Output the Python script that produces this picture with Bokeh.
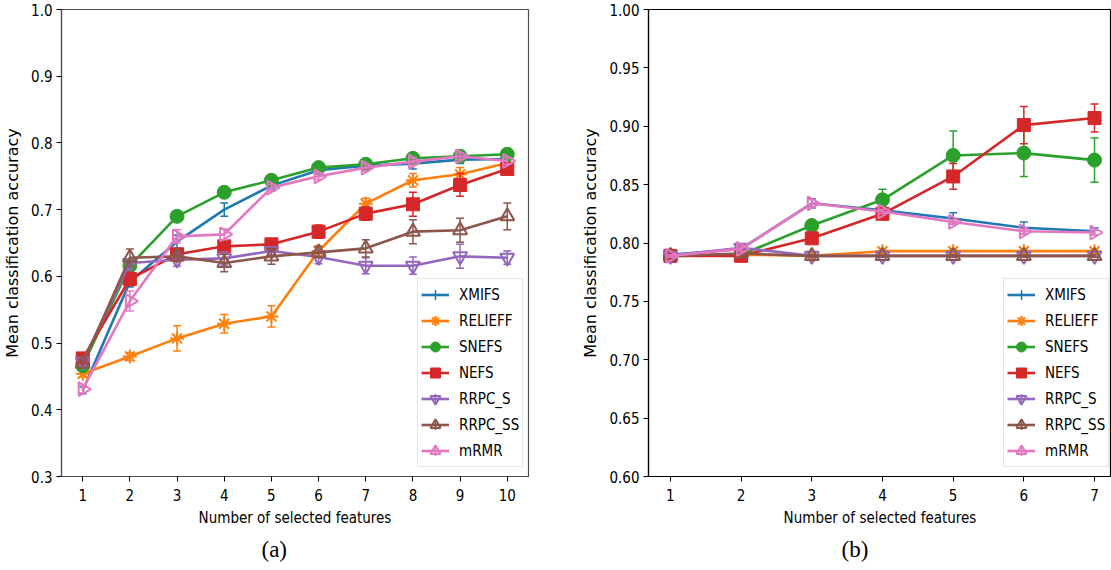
import numpy as np
from bokeh.plotting import figure
from bokeh.models import Range1d, FixedTicker, Legend, LegendItem, Title
from bokeh.layouts import row
from bokeh.embed import file_html
from bokeh.resources import INLINE

# ---------------- data ----------------
methods = ["XMIFS", "RELIEFF", "SNEFS", "NEFS", "RRPC_S", "RRPC_SS", "mRMR"]
colors = ["#1f77b4", "#ff7f0e", "#2ca02c", "#d62728", "#9467bd", "#8c564b", "#e377c2"]

# panel (a)
a_x = [1, 2, 3, 4, 5, 6, 7, 8, 9, 10]
a_xmifs = [0.429, 0.592, 0.652, 0.700, 0.736, 0.759, 0.766, 0.769, 0.775, 0.776]
a_relieff = [0.454, 0.480, 0.507, 0.529, 0.540, 0.638, 0.709, 0.744, 0.753, 0.770]
a_snefs = [0.466, 0.616, 0.690, 0.726, 0.744, 0.763, 0.768, 0.777, 0.780, 0.783]
a_nefs = [0.477, 0.596, 0.633, 0.645, 0.648, 0.667, 0.694, 0.708, 0.737, 0.761]
a_rrpc_s = [0.472, 0.620, 0.625, 0.627, 0.638, 0.629, 0.616, 0.616, 0.630, 0.628]
a_rrpc_ss = [0.469, 0.628, 0.630, 0.620, 0.630, 0.636, 0.642, 0.667, 0.669, 0.690]
a_mrmr = [0.431, 0.563, 0.660, 0.663, 0.733, 0.750, 0.763, 0.772, 0.780, 0.773]

a_xmifs_err = [0.005, 0.008, 0.010, 0.010, 0.005, 0.005, 0.005, 0.008, 0.006, 0.004]
a_relieff_err = [0.005, 0.006, 0.019, 0.014, 0.016, 0.008, 0.008, 0.010, 0.010, 0.006]
a_snefs_err = [0.005, 0.006, 0.006, 0.006, 0.005, 0.005, 0.004, 0.004, 0.004, 0.004]
a_nefs_err = [0.006, 0.010, 0.008, 0.008, 0.006, 0.010, 0.010, 0.018, 0.017, 0.008]
a_rrpc_s_err = [0.006, 0.006, 0.010, 0.010, 0.006, 0.010, 0.012, 0.013, 0.018, 0.010]
a_rrpc_ss_err = [0.006, 0.013, 0.008, 0.013, 0.012, 0.008, 0.013, 0.018, 0.018, 0.020]
a_mrmr_err = [0.006, 0.015, 0.010, 0.008, 0.005, 0.005, 0.005, 0.005, 0.005, 0.005]

a_yticks = [0.3, 0.4, 0.5, 0.6, 0.7, 0.8, 0.9, 1.0]
a_ytick_labels = ["0.3", "0.4", "0.5", "0.6", "0.7", "0.8", "0.9", "1.0"]

# panel (b)
b_x = [1, 2, 3, 4, 5, 6, 7]
b_xmifs = [0.790, 0.795, 0.834, 0.828, 0.821, 0.813, 0.810]
b_relieff = [0.789, 0.790, 0.789, 0.793, 0.793, 0.793, 0.793]
b_snefs = [0.789, 0.790, 0.815, 0.837, 0.875, 0.877, 0.871]
b_nefs = [0.789, 0.789, 0.804, 0.825, 0.857, 0.901, 0.907]
b_rrpc_s = [0.789, 0.796, 0.789, 0.789, 0.789, 0.789, 0.789]
b_rrpc_ss = [0.789, 0.791, 0.789, 0.789, 0.789, 0.789, 0.789]
b_mrmr = [0.789, 0.795, 0.834, 0.827, 0.818, 0.810, 0.809]

b_xmifs_err = [0.001, 0.002, 0.004, 0.003, 0.005, 0.005, 0.003]
b_relieff_err = [0.001, 0.001, 0.001, 0.002, 0.002, 0.002, 0.002]
b_snefs_err = [0.001, 0.001, 0.002, 0.009, 0.021, 0.020, 0.019]
b_nefs_err = [0.001, 0.001, 0.003, 0.003, 0.011, 0.016, 0.012]
b_rrpc_s_err = [0.001, 0.002, 0.001, 0.001, 0.001, 0.001, 0.001]
b_rrpc_ss_err = [0.001, 0.002, 0.001, 0.001, 0.001, 0.001, 0.001]
b_mrmr_err = [0.001, 0.002, 0.003, 0.002, 0.002, 0.002, 0.002]

b_yticks = [0.60, 0.65, 0.70, 0.75, 0.80, 0.85, 0.90, 0.95, 1.00]
b_ytick_labels = ["0.60", "0.65", "0.70", "0.75", "0.80", "0.85", "0.90", "0.95", "1.00"]

x_label = "Number of selected features"
y_label = "Mean classification accuracy"

# ---------------- styling ----------------
FONT = "'DejaVu Sans Condensed', 'DejaVu Sans'"
markers = [None, "asterisk", "circle", "square", "inverted_triangle", "triangle", "triangle"]
angles = [0, 0, 0, 0, 0, 0, -np.pi / 2]
filled = [False, False, True, True, False, False, False]
msizes = [0, 14, 14, 13, 14, 14, 14]
LEG_PAD, LEG_GH, LEG_GW, LEG_SP, LEG_Y = 3, 25, 28, 1, 9
FIG_H, BORDER_T, BORDER_B = 570, 9, 94


def make_panel(xs, series, errs, x_range, y_range, yticks, ylabels, width, border_l, border_r,
               spine_color, legend_x, caption, caption_off):
    p = figure(width=width, height=FIG_H, x_range=Range1d(*x_range), y_range=Range1d(*y_range),
               min_border_left=border_l, min_border_right=border_r, min_border_top=BORDER_T,
               min_border_bottom=BORDER_B, output_backend="svg", toolbar_location=None)
    p.xgrid.visible = False
    p.ygrid.visible = False
    p.outline_line_color = spine_color
    p.outline_line_width = 1.2
    p.background_fill_color = "white"
    p.border_fill_color = "white"

    p.xaxis.ticker = FixedTicker(ticks=xs)
    p.yaxis.ticker = FixedTicker(ticks=yticks)
    p.yaxis.major_label_overrides = {t: l for t, l in zip(yticks, ylabels)}
    for ax in (p.xaxis[0], p.yaxis[0]):
        ax.axis_line_color = spine_color
        ax.axis_line_width = 1.2
        ax.major_tick_line_color = "black"
        ax.major_tick_out = 5
        ax.major_tick_in = 0
        ax.minor_tick_line_color = None
        ax.major_label_text_font = FONT
        ax.major_label_text_font_size = "15px"
        ax.major_label_text_color = "black"
        ax.axis_label_text_font_style = "normal"
        ax.axis_label_text_color = "black"
    p.xaxis.axis_label = x_label
    p.yaxis.axis_label = y_label
    p.xaxis.axis_label_text_font = FONT
    p.xaxis.axis_label_text_font_size = "15px"
    p.yaxis.axis_label_text_font = "DejaVu Sans"
    p.yaxis.axis_label_text_font_size = "16px"
    p.xaxis.major_label_standoff = 7
    p.xaxis.axis_label_standoff = 5
    p.yaxis.major_label_standoff = 4
    p.yaxis.axis_label_standoff = 6

    items = []
    for i, name in enumerate(methods):
        c = colors[i]
        n = len(xs)
        y = np.array(series[i])
        e = np.array(errs[i])
        lo = y - e
        hi = y + e
        rl = p.line(xs, y, line_color=c, line_width=2.6)
        p.segment(x0=xs, y0=lo, x1=xs, y1=hi, line_color=c, line_width=1.5)
        p.scatter(xs, lo, marker="dash", size=8, line_color=c, line_width=1.5)
        p.scatter(xs, hi, marker="dash", size=8, line_color=c, line_width=1.5)
        rend = [rl]
        # legend-only error-bar symbol (a NaN point is never drawn in the plot)
        rv = p.scatter([xs[0]], [float("nan")], marker="cross", size=14,
                       line_color=c, line_width=1.5)
        rend.append(rv)
        if markers[i] is not None:
            ang = np.full(n, angles[i])
            if filled[i]:
                rm = p.scatter(xs, y, marker=markers[i], size=msizes[i], angle=ang,
                               fill_color=c, line_color=c, line_width=1)
            else:
                rm = p.scatter(xs, y, marker=markers[i], size=msizes[i], angle=ang,
                               fill_color=None, line_color=c, line_width=2)
            rend.append(rm)
        items.append(LegendItem(label=name, renderers=rend))

    leg = Legend(items=items, location=(legend_x, LEG_Y), margin=0, padding=LEG_PAD, spacing=LEG_SP,
                 glyph_width=LEG_GW, glyph_height=LEG_GH, label_height=20, label_standoff=10,
                 label_text_font=FONT, label_text_font_size="15px", label_text_color="black",
                 border_line_color="#cccccc", border_line_width=1,
                 background_fill_color="white", background_fill_alpha=0.8)
    p.add_layout(leg, "center")

    p.add_layout(Title(text=caption, align="left", offset=caption_off,
                       text_font="Liberation Serif", text_font_size="23px",
                       text_font_style="normal", text_color="black"), "below")
    return p


pa = make_panel(a_x, [a_xmifs, a_relieff, a_snefs, a_nefs, a_rrpc_s, a_rrpc_ss, a_mrmr],
                [a_xmifs_err, a_relieff_err, a_snefs_err, a_nefs_err, a_rrpc_s_err, a_rrpc_ss_err, a_mrmr_err],
                (0.55, 10.45), (0.3, 1.0), a_yticks, a_ytick_labels, 575, 57, 47, "#4d4d4d", 356, "(a)", 200)
pb = make_panel(b_x, [b_xmifs, b_relieff, b_snefs, b_nefs, b_rrpc_s, b_rrpc_ss, b_mrmr],
                [b_xmifs_err, b_relieff_err, b_snefs_err, b_nefs_err, b_rrpc_s_err, b_rrpc_ss_err, b_mrmr_err],
                (0.69, 7.24), (0.6, 1.0), b_yticks, b_ytick_labels, 536, 73, 0, "black", 355, "(b)", 193)

layout = row(pa, pb, spacing=0)
open("out.html", "w").write(file_html(layout, INLINE))
